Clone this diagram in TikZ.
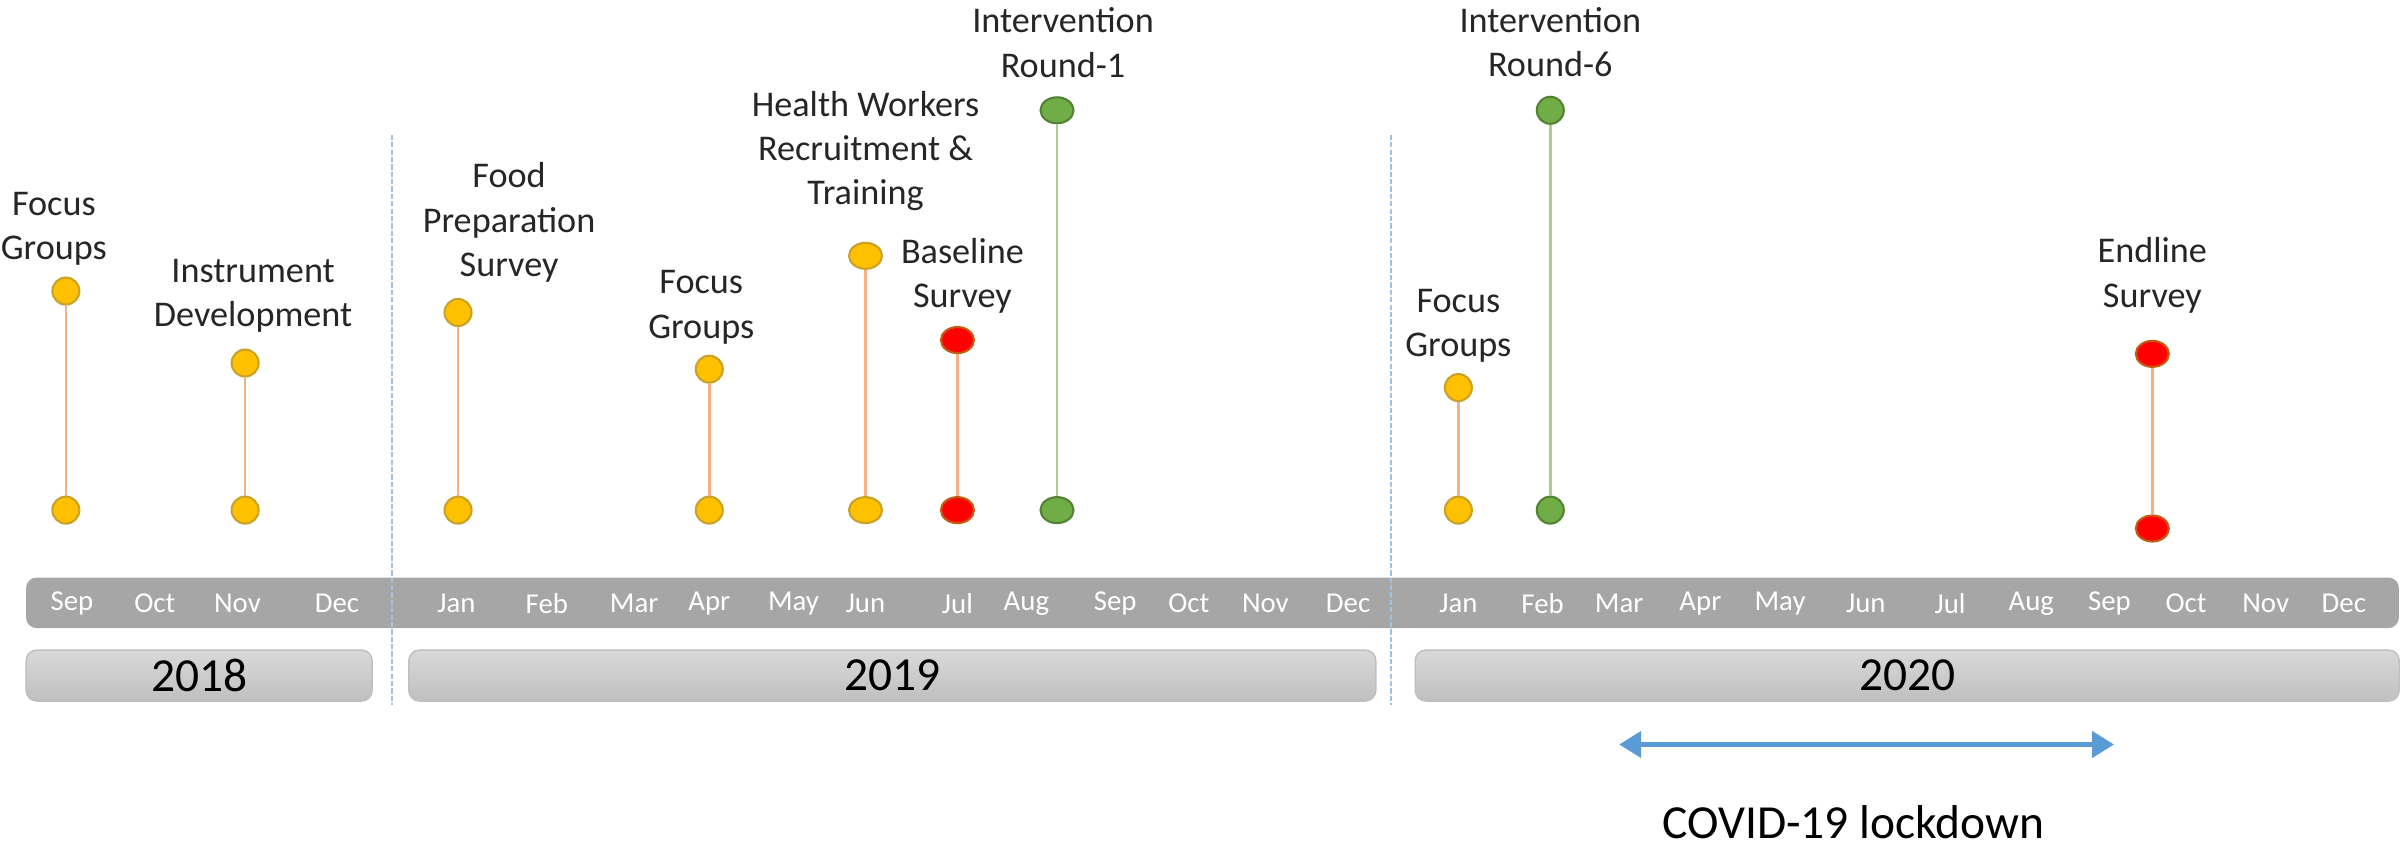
\documentclass[tikz,border=0pt]{standalone}
\usepackage{fontspec}
\setmainfont{Carlito}
\usetikzlibrary{positioning, arrows.meta, shapes.geometric}

\definecolor{dotyellow}{HTML}{FFC000}
\definecolor{rimyellow}{HTML}{C9A227}
\definecolor{dotred}{HTML}{FF0000}
\definecolor{rimred}{HTML}{C55A11}
\definecolor{dotgreen}{HTML}{70AD47}
\definecolor{rimgreen}{HTML}{548235}
\definecolor{linkorange}{HTML}{F4B183}
\definecolor{linkgreen}{HTML}{A9D18E}
\definecolor{barfill}{HTML}{A6A6A6}
\definecolor{sepblue}{HTML}{9DC3E6}
\definecolor{lockblue}{HTML}{5B9BD5}

\tikzset{
  ydot/.style={ellipse, draw=rimyellow, fill=dotyellow, line width=0.6pt,
    minimum width=0.27cm, minimum height=0.27cm, inner sep=0pt},
  rdot/.style={ydot, draw=rimred, fill=dotred},
  gdot/.style={ydot, draw=rimgreen, fill=dotgreen},
  wide/.style={minimum width=0.33cm, minimum height=0.26cm},
  evlabel/.style={align=center, inner sep=0pt, text=black!85,
    font=\fontsize{10.3}{12.6}\selectfont},
  month/.style={text=white, inner sep=0pt, font=\fontsize{8.2}{9}\selectfont},
  yearbox/.style={draw=black!25, rounded corners=3pt, top color=black!15,
    bottom color=black!25, minimum height=0.51cm, inner sep=0pt,
    font=\fontsize{13.5}{15}\selectfont},
  olink/.style={draw=linkorange, line width=0.7pt},
  glink/.style={draw=linkgreen, line width=0.7pt},
}

\begin{document}
\begin{tikzpicture}[x=0.01532cm, y=-0.01532cm]
  \useasboundingbox (0,0) rectangle (1568,553);

  % month strip
  \fill[barfill, rounded corners=3pt] (17,377) rectangle (1566,410);
  \foreach \x/\m in {47/Sep, 101/Oct, 155/Nov, 220/Dec,
      298/Jan, 357/Feb, 414/Mar, 463/Apr, 518/May, 565/Jun,
      625/Jul, 670/Aug, 728/Sep, 776/Oct, 826/Nov, 880/Dec,
      952/Jan, 1007/Feb, 1057/Mar, 1110/Apr, 1162/May, 1218/Jun,
      1273/Jul, 1326/Aug, 1377/Sep, 1427/Oct, 1479/Nov, 1530/Dec}
    \node[month] (m\x) at (\x,394) {\m};

  % years
  \node[yearbox, minimum width=3.46cm] (y2018) at (130,441) {2018};
  \node[yearbox, minimum width=9.67cm] (y2019) at (582.5,441) {2019};
  \node[yearbox, minimum width=9.84cm] (y2020) at (1245,441) {2020};

  % year separators
  \draw[sepblue, line width=0.5pt, dash pattern=on 1.5pt off 0.6pt] (256,88) -- (256,460);
  \draw[sepblue, line width=0.5pt, dash pattern=on 1.5pt off 0.6pt] (908,88) -- (908,460);

  % events: top and bottom markers
  \node[ydot] (t1) at (43,190) {};
  \node[ydot] (b1) at (43,333) {};
  \node[ydot] (t2) at (160,237) {};
  \node[ydot] (b2) at (160,333) {};
  \node[ydot] (t3) at (299,204) {};
  \node[ydot] (b3) at (299,333) {};
  \node[ydot] (t4) at (463,241) {};
  \node[ydot] (b4) at (463,333) {};
  \node[ydot, wide] (t5) at (565,167) {};
  \node[ydot, wide] (b5) at (565,333) {};
  \node[rdot, wide] (t6) at (625,222) {};
  \node[rdot, wide] (b6) at (625,333) {};
  \node[gdot, wide] (t7) at (690,72) {};
  \node[gdot, wide] (b7) at (690,333) {};
  \node[ydot] (t8) at (952,253) {};
  \node[ydot] (b8) at (952,333) {};
  \node[gdot] (t9) at (1012,72) {};
  \node[gdot] (b9) at (1012,333) {};
  \node[rdot, wide] (t10) at (1405,231) {};
  \node[rdot, wide] (b10) at (1405,345) {};

  % labels
  \node[evlabel, above=0.1cm of t1, xshift=-0.12cm] (l1) {Focus\\Groups};
  \node[evlabel, above=0.15cm of t2, xshift=0.08cm] (l2) {Instrument\\Development};
  \node[evlabel, above=0.15cm of t3, xshift=0.51cm] (l3) {Food\\Preparation\\Survey};
  \node[evlabel, above=0.1cm of t4, xshift=-0.08cm] (l4) {Focus\\Groups};
  \node[evlabel, above=0.3cm of t5] (l5) {Health Workers\\Recruitment \&\\Training};
  \node[evlabel, above=0.12cm of t6, xshift=0.05cm] (l6) {Baseline\\Survey};
  \node[evlabel, above=0.18cm of t7, xshift=0.06cm] (l7) {Intervention\\Round-1};
  \node[evlabel, above=0.1cm of t8] (l8) {Focus\\Groups};
  \node[evlabel, above=0.18cm of t9] (l9) {Intervention\\Round-6};
  \node[evlabel, above=0.26cm of t10] (l10) {Endline\\Survey};

  \path
  (t1) edge[olink] (b1)
  (t2) edge[olink] (b2)
  (t3) edge[olink] (b3)
  (t4) edge[olink] (b4)
  (t5) edge[olink] (b5)
  (t6) edge[olink] (b6)
  (t7) edge[glink] (b7)
  (t8) edge[olink] (b8)
  (t9) edge[glink] (b9)
  (t10) edge[olink] (b10);

  % lockdown span
  \coordinate (lockstart) at (1057,486);
  \coordinate (lockend) at (1380,486);
  \draw[lockblue, line width=1.3pt, {Triangle[length=0.22cm, width=0.26cm]}-{Triangle[length=0.22cm, width=0.26cm]}]
    (lockstart) -- (lockend);
  \node[font=\fontsize{13.5}{15}\selectfont] (lock) at (1210,537) {COVID-19 lockdown};
\end{tikzpicture}
\end{document}
